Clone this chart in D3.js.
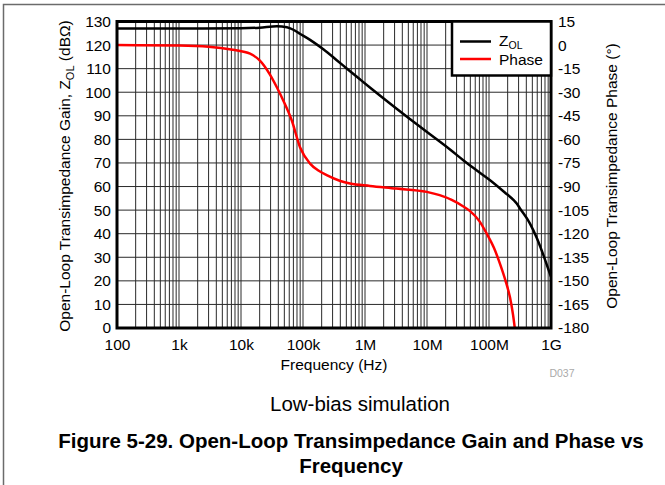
<!DOCTYPE html>
<html><head><meta charset="utf-8">
<script src="https://cdn.jsdelivr.net/npm/d3@7"></script>
<style>
html,body{margin:0;padding:0;background:#fff;}
svg{display:block;font-family:"Liberation Sans",Arial,Helvetica,sans-serif;}
</style></head>
<body><svg id="c" width="665" height="485"></svg>
<script>
// ---- data ----
const freqTicks = [1e2,1e3,1e4,1e5,1e6,1e7,1e8,1e9];
const freqLabels = ["100","1k","10k","100k","1M","10M","100M","1G"];
const gainTicks = [0,10,20,30,40,50,60,70,80,90,100,110,120,130];
const phaseTicks = [-180,-165,-150,-135,-120,-105,-90,-75,-60,-45,-30,-15,0,15];

const zolFreq = [1e2,1e3,1e4,2e4,3.8e4,5.5e4,7e4,8.9e4,1.3e5,2.13e5,3.5e5,5.07e5,8e5,1.2e6,2e6,5.3e6,1e7,2.35e7,3.8e7,6e7,1.04e8,1.8e8,2.5e8,2.8e8,3.16e8,4.58e8,5.88e8,6.65e8,8e8,1e9];
const zolGain = [127,127,127.1,127.4,128,127.6,126.5,124.8,122.2,118.2,113.6,110.1,105.8,102,97.3,88.6,83.1,75.7,71.3,67.3,62.7,57.5,54.2,52.8,50.7,44.3,38.3,34.8,29,21.7];

const phFreq = [1e2,1e3,3e3,7.4e3,1.4e4,2e4,2.9e4,3.8e4,4.8e4,6.6e4,8.95e4,1.3e5,1.8e5,2.41e5,4e5,5.73e5,1.2e6,3.2e6,9.9e6,1.6e7,2.5e7,3.8e7,4.9e7,7e7,9.2e7,1.2e8,1.5e8,1.85e8,2.18e8,2.45e8,2.7e8];
const phase = [0,-0.3,-1,-3,-5.5,-9.8,-18.5,-27,-35.2,-48,-65,-75.4,-80,-82.8,-86.5,-88.1,-89.6,-91.3,-93.4,-95.5,-98.5,-102.5,-105.5,-112,-120,-129,-139,-150,-160.5,-172,-185];

// ---- layout ----
const L=117, R=551, T=21.5, B=328;
const svg = d3.select("#c");
const x = d3.scaleLog().domain([1e2,1e9]).range([L,R]);
const yG = d3.scaleLinear().domain([0,130]).range([B,T]);
const yP = d3.scaleLinear().domain([-180,15]).range([B,T]);

// outer figure border
svg.append("path").attr("d","M3.5,490 V4.5 H670").attr("fill","none").attr("stroke","#6b6b6b").attr("stroke-width",1.5);

// grid
const grid = svg.append("g").attr("stroke","#2a2a2a").attr("stroke-width",1);
const vlines=[];
for(let d=1e2; d<1e9; d*=10){ for(let k=1;k<=9;k++) vlines.push(k*d); }
vlines.push(1e9);
grid.selectAll("line.v").data(vlines).join("line")
  .attr("x1",d=>x(d)).attr("x2",d=>x(d)).attr("y1",T).attr("y2",B);
grid.selectAll("line.h").data(gainTicks).join("line")
  .attr("x1",L).attr("x2",R).attr("y1",d=>yG(d)).attr("y2",d=>yG(d));

// clip
svg.append("clipPath").attr("id","clip").append("rect").attr("x",L).attr("y",T).attr("width",R-L).attr("height",B-T);

// curves
const lineZ = d3.line().x((d,i)=>x(zolFreq[i])).y(d=>yG(d)).curve(d3.curveMonotoneX);
const lineP = d3.line().x((d,i)=>x(phFreq[i])).y(d=>yP(d)).curve(d3.curveMonotoneX);
const g = svg.append("g").attr("clip-path","url(#clip)");
g.append("path").attr("d",lineP(phase)).attr("fill","none").attr("stroke","#ff0000").attr("stroke-width",2.5);
g.append("path").attr("d",lineZ(zolGain)).attr("fill","none").attr("stroke","#000").attr("stroke-width",2.5);

// frame
svg.append("rect").attr("x",L).attr("y",T).attr("width",R-L).attr("height",B-T)
  .attr("fill","none").attr("stroke","#000").attr("stroke-width",3);

// axes
const fs = "15.5px";
const axL = svg.append("g").attr("transform",`translate(${L-6},0)`)
  .call(d3.axisLeft(yG).tickValues(gainTicks).tickSize(0).tickPadding(0).tickFormat(d=>String(d)));
const axR = svg.append("g").attr("transform",`translate(${R+7},0)`)
  .call(d3.axisRight(yP).tickValues(phaseTicks).tickSize(0).tickPadding(0).tickFormat(d=>String(d)));
const axB = svg.append("g").attr("transform",`translate(0,${B+11})`)
  .call(d3.axisBottom(x).tickValues(freqTicks).tickSize(0).tickPadding(0).tickFormat((d,i)=>freqLabels[i]));
[axL,axR,axB].forEach(a=>{
  a.select(".domain").remove();
  a.selectAll("text").attr("font-size",fs).attr("fill","#000").attr("font-family",null);
});

// axis titles
svg.append("text").attr("x",334).attr("y",370).attr("text-anchor","middle").attr("font-size",fs).text("Frequency (Hz)");
const lt = svg.append("text").attr("transform","translate(70,176) rotate(-90)").attr("text-anchor","middle").attr("font-size",fs);
lt.append("tspan").text("Open-Loop Transimpedance Gain, Z");
lt.append("tspan").attr("font-size","11px").attr("dy",4).text("OL");
lt.append("tspan").attr("dy",-4).text(" (dB\u03A9)");
svg.append("text").attr("transform","translate(617,176) rotate(-90)").attr("text-anchor","middle").attr("font-size",fs)
  .text("Open-Loop Transimpedance Phase (\u00B0)");

// legend
const lg = svg.append("g");
lg.append("rect").attr("x",452).attr("y",21.5).attr("width",99).attr("height",54).attr("fill","#fff").attr("stroke","#000").attr("stroke-width",2.5);
lg.append("line").attr("x1",460).attr("x2",491).attr("y1",41.5).attr("y2",41.5).attr("stroke","#000").attr("stroke-width",2.5);
lg.append("line").attr("x1",460).attr("x2",491).attr("y1",59).attr("y2",59).attr("stroke","#ff0000").attr("stroke-width",2.5);
const lz = lg.append("text").attr("x",499).attr("y",46).attr("font-size",fs);
lz.append("tspan").text("Z");
lz.append("tspan").attr("font-size","10.5px").attr("dy",3).text("OL");
lg.append("text").attr("x",499).attr("y",65).attr("font-size",fs).text("Phase");

// notes
svg.append("text").attr("x",562).attr("y",377).attr("text-anchor","middle").attr("font-size","10.5px").attr("fill","#aaa").text("D037");
svg.append("text").attr("x",360).attr("y",411).attr("text-anchor","middle").attr("font-size","20.5px").text("Low-bias simulation");
svg.append("text").attr("x",351).attr("y",448).attr("text-anchor","middle").attr("font-size","20.5px").attr("font-weight","bold")
  .text("Figure 5-29. Open-Loop Transimpedance Gain and Phase vs");
svg.append("text").attr("x",351).attr("y",473).attr("text-anchor","middle").attr("font-size","20.5px").attr("font-weight","bold")
  .text("Frequency");
</script></body></html>
